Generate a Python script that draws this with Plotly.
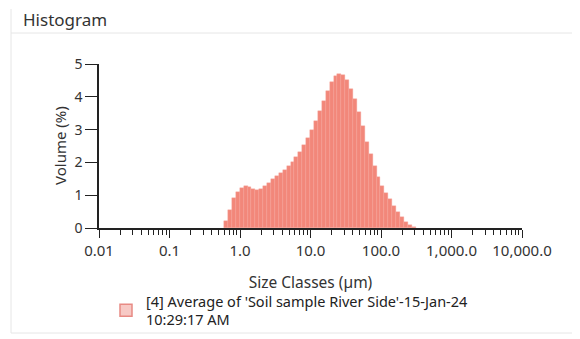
import math
import plotly.graph_objects as go

# Size class edges (µm) for the non-empty classes
size_edges = [0.594, 0.675, 0.767, 0.872, 0.991, 1.13, 1.28, 1.45, 1.65, 1.88,
              2.13, 2.42, 2.75, 3.12, 3.55, 4.03, 4.58, 5.21, 5.92, 6.72,
              7.64, 8.68, 9.86, 11.2, 12.7, 14.5, 16.4, 18.7, 21.2, 24.1,
              27.4, 31.1, 35.3, 40.1, 45.6, 51.8, 58.9, 66.9, 76.0, 86.4,
              98.1, 111, 127, 144, 163, 186, 211, 240, 272, 310]
# Volume (%) in each class
volume = [0.22, 0.55, 0.90, 1.10, 1.22, 1.27, 1.25, 1.20, 1.17, 1.20,
          1.28, 1.38, 1.48, 1.58, 1.68, 1.78, 1.90, 2.02, 2.15, 2.33,
          2.53, 2.75, 3.00, 3.27, 3.57, 3.88, 4.18, 4.45, 4.64, 4.70,
          4.66, 4.50, 4.25, 3.92, 3.55, 3.12, 2.62, 2.25, 1.90, 1.55,
          1.28, 1.07, 0.87, 0.68, 0.50, 0.33, 0.18, 0.08, 0.02]

tick_sizes = [0.01, 0.1, 1, 10, 100, 1000, 10000]
tick_labels = ["0.01", "0.1", "1.0", "10.0", "100.0", "1,000.0", "10,000.0"]
y_ticks = [0, 1, 2, 3, 4, 5]

series_name = "[4] Average of 'Soil sample River Side'-15-Jan-24<br>10:29:17 AM"

lo = [math.log10(v) for v in size_edges[:-1]]
hi = [math.log10(v) for v in size_edges[1:]]
widths = [h - l for l, h in zip(lo, hi)]

minor_vals = []
for d in range(-2, 4):
    for k in range(2, 10):
        minor_vals.append(d + math.log10(k))

FONT = "Noto Sans"
fig = go.Figure()
fig.add_trace(go.Bar(
    x=lo, y=volume, width=widths, offset=0,
    marker=dict(color="#f2877a", line=dict(color="#f6a39a", width=0.4)),
    showlegend=False, hoverinfo="skip"))
fig.add_trace(go.Bar(
    x=[None], y=[None], name=series_name,
    marker=dict(color="#f7c9c5", line=dict(color="#e88a84", width=1.5)),
    showlegend=True))

# page is shown with an 8px body margin, so figure coords = page coords - 8
OFF = 8
W, H = 580, 339
L, T = 99 - OFF, 64 - OFF
pw, ph = 423, 164
R, B = W - L - pw, H - T - ph

def px(x):
    return (x - OFF - L) / pw

def py(y):
    return (T + ph - (y - OFF)) / ph

line_col = "#e6e6e6"
shapes = [
    dict(type="line", xref="paper", yref="paper", x0=px(11), x1=px(575), y0=py(33), y1=py(33),
         line=dict(color=line_col, width=1), layer="below"),
    dict(type="line", xref="paper", yref="paper", x0=px(11), x1=px(11), y0=py(9), y1=py(333),
         line=dict(color=line_col, width=1), layer="below"),
    dict(type="line", xref="paper", yref="paper", x0=px(575), x1=px(575), y0=py(33), y1=py(333),
         line=dict(color=line_col, width=1), layer="below"),
    dict(type="line", xref="paper", yref="paper", x0=px(11), x1=px(575), y0=py(333), y1=py(333),
         line=dict(color=line_col, width=1), layer="below"),
]

annotations = [
    dict(text="Volume (%)", textangle=-90, xref="paper", yref="paper",
         x=px(60), y=0.5, xanchor="center", yanchor="middle", showarrow=False,
         font=dict(family=FONT, size=15, color="#333")),
]

fig.update_layout(
    width=W, height=H,
    margin=dict(l=L, r=R, t=T, b=B, autoexpand=False),
    paper_bgcolor="white", plot_bgcolor="white",
    font=dict(family=FONT, size=14, color="#333333"),
    title=dict(text="Histogram", x=(23 - OFF) / W, xanchor="left", xref="container",
               y=1 - (20 - OFF) / H, yanchor="middle", yref="container",
               pad=dict(t=0, b=0, l=0, r=0),
               font=dict(family=FONT, size=17, color="#333333")),
    bargap=0,
    shapes=shapes,
    annotations=annotations,
    xaxis=dict(range=[-2, 4], tickmode="array",
               tickvals=[math.log10(v) for v in tick_sizes], ticktext=tick_labels,
               ticks="outside", ticklen=8, tickwidth=1, tickcolor="#222",
               showline=True, linecolor="#222", linewidth=1.5,
               showgrid=False, zeroline=False,
               tickfont=dict(size=15, color="#333"),
               minor=dict(tickmode="array", tickvals=minor_vals, ticks="outside",
                          ticklen=5, tickwidth=1, tickcolor="#222", showgrid=False),
               title=dict(text="Size Classes (µm)", standoff=18,
                          font=dict(size=15.5, color="#333"))),
    yaxis=dict(range=[0, 5], tickmode="array", tickvals=y_ticks,
               ticks="outside", ticklen=12, tickwidth=1, tickcolor="#222",
               showline=True, linecolor="#222", linewidth=1.5,
               showgrid=False, zeroline=False,
               tickfont=dict(size=14, color="#333")),
    legend=dict(x=(106 - OFF) / W, xanchor="left", y=1 - (285 - OFF) / H, yanchor="top",
                xref="container", yref="container",
                font=dict(family=FONT, size=14.5, color="#222"),
                bgcolor="rgba(0,0,0,0)", itemwidth=30, tracegroupgap=0),
)

fig.write_html("out.html")
